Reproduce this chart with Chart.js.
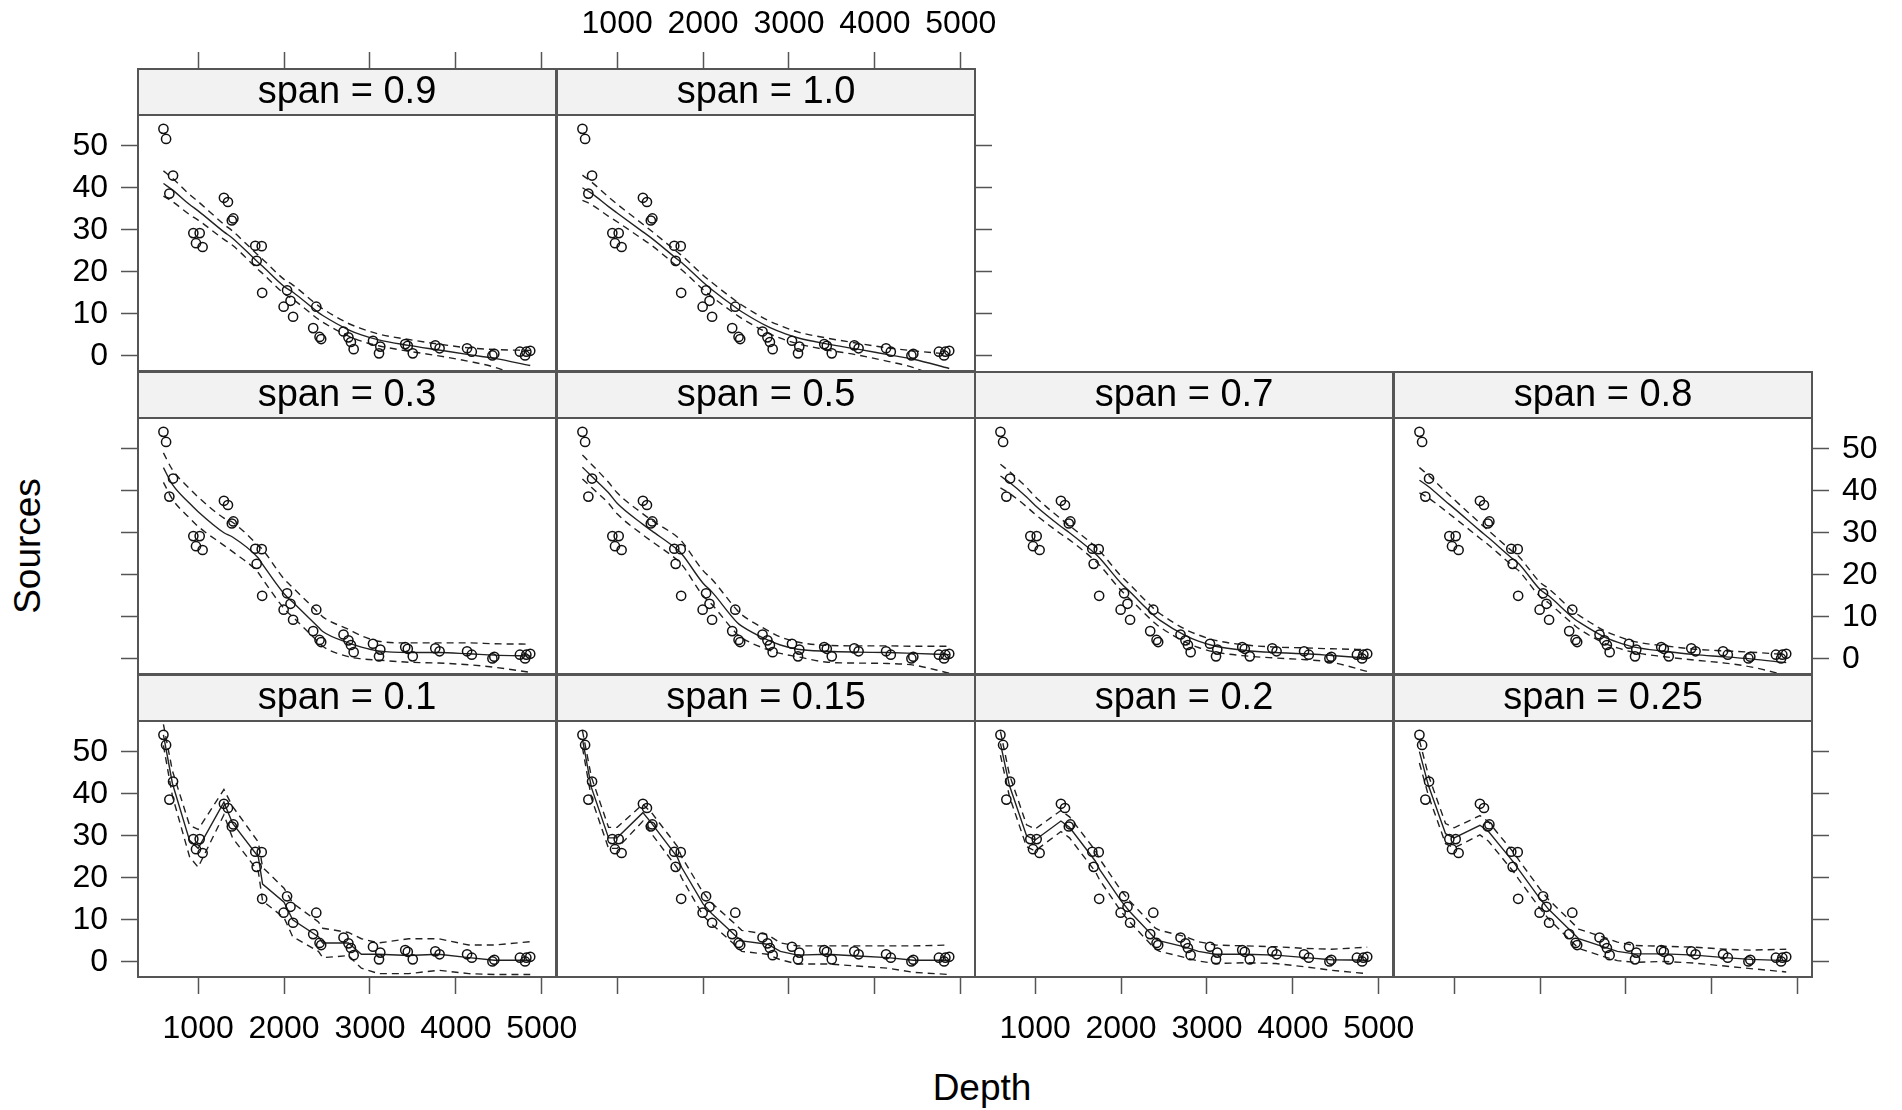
<!DOCTYPE html>
<html><head><meta charset="utf-8">
<script src="https://cdn.jsdelivr.net/npm/chart.js@4.4.1/dist/chart.umd.min.js"></script>
<style>
html,body{margin:0;padding:0;background:#fff;width:1902px;height:1110px;overflow:hidden;font-family:"Liberation Sans",Arial,sans-serif;}
canvas{position:absolute;}
.lab{position:absolute;font-size:37px;color:#000;white-space:nowrap;line-height:1;}
</style></head><body>
<div class="lab" id="xlab" style="left:982px;top:1087px;transform:translate(-50%,-50%);">Depth</div>
<div class="lab" id="ylab" style="left:27px;top:546px;transform:translate(-50%,-50%) rotate(-90deg);">Sources</div>
<script>
// ---------- data ----------
const DEPTH   = [596, 627, 665, 708, 944, 975, 1018, 1052, 1300, 1347, 1392, 1410, 1665, 1740, 1681, 1745, 1995, 2035, 2075, 2105, 2339, 2375, 2413, 2432, 2692, 2749, 2778, 2810, 3035, 3105, 3120, 3410, 3440, 3498, 3760, 3810, 4130, 4185, 4447, 4425, 4745, 4820, 4865, 4805];
const SOURCES = [54.0, 51.6, 38.6, 42.9, 29.2, 26.8, 29.2, 25.9, 37.6, 36.6, 32.2, 32.7, 26.2, 26.1, 22.6, 15.0, 11.7, 15.6, 13.1, 9.3, 6.6, 11.7, 4.5, 4.0, 5.8, 4.4, 3.3, 1.6, 3.6, 0.6, 2.2, 2.8, 2.4, 0.6, 2.5, 1.8, 1.8, 1.0, 0.5, 0.1, 1.0, 1.0, 1.2, 0.1];

const X_TICKS = [1000, 2000, 3000, 4000, 5000];
const Y_TICKS = [0, 10, 20, 30, 40, 50];
const X_MIN = 300, X_MAX = 5165;
const Y_MIN = -3.6, Y_MAX = 57.3;

const CURVE_X = [596, 700, 900, 1000, 1300, 1400, 1700, 1750, 2000, 2100, 2400, 2450, 2750, 2900, 3100, 3450, 3800, 4150, 4450, 4865];

const FIT_010 = [54.0, 42.5, 28.9, 27.0, 38.0, 33.0, 25.0, 18.5, 14.2, 10.0, 6.0, 4.5, 4.5, 1.8, 1.8, 1.5, 1.8, 1.0, 0.4, 0.4];
const UP_010  = [56.5, 45.5, 32.5, 31.5, 41.0, 37.0, 28.5, 22.5, 17.5, 14.0, 9.5, 8.0, 7.0, 5.5, 4.5, 5.5, 5.5, 4.0, 4.0, 4.8];
const LO_010  = [51.5, 39.5, 25.0, 22.5, 35.0, 29.5, 21.5, 14.5, 10.5, 6.0, 2.5, 1.0, 1.5, -1.5, -2.8, -2.8, -2.0, -2.8, -3.0, -3.0];

const FIT_015 = [53.0, 41.5, 29.5, 29.5, 35.5, 33.0, 24.9, 22.5, 13.8, 11.5, 5.8, 5.0, 4.2, 2.5, 1.6, 1.8, 1.4, 1.0, 0.4, 0.4];
const UP_015  = [55.0, 44.0, 32.0, 32.0, 37.5, 35.5, 27.5, 25.0, 16.5, 14.0, 8.5, 7.5, 6.5, 4.5, 3.8, 3.8, 3.8, 3.8, 3.8, 4.0];
const LO_015  = [51.0, 39.0, 27.0, 27.0, 33.5, 30.5, 22.3, 20.0, 11.0, 9.0, 3.5, 2.5, 1.8, 0.5, -0.5, -0.5, -1.0, -1.5, -2.5, -3.0];

const FIT_020 = [52.0, 42.0, 30.0, 29.0, 33.5, 32.0, 24.0, 22.0, 14.5, 12.0, 5.5, 5.0, 3.5, 2.5, 1.8, 1.8, 1.6, 1.0, 0.5, 0.4];
const UP_020  = [54.8, 44.6, 32.6, 31.6, 36.0, 34.5, 26.5, 24.5, 17.0, 14.5, 8.0, 7.5, 6.0, 4.8, 4.0, 3.8, 3.6, 3.2, 3.0, 3.5];
const LO_020  = [49.2, 39.4, 27.4, 26.4, 31.0, 29.5, 21.5, 19.5, 12.0, 9.5, 3.0, 2.5, 1.0, 0.2, -0.4, -0.2, -0.4, -1.2, -2.0, -2.8];

const FIT_025 = [50.0, 42.0, 30.5, 29.5, 32.5, 31.0, 23.5, 22.0, 15.0, 12.5, 6.5, 5.5, 3.5, 2.5, 1.9, 1.9, 1.6, 1.0, 0.6, 0.3];
const UP_025  = [52.7, 44.4, 32.9, 31.9, 34.8, 33.3, 25.8, 24.3, 17.3, 14.8, 8.8, 7.8, 5.8, 4.7, 3.9, 3.7, 3.5, 3.0, 2.8, 3.0];
const LO_025  = [47.3, 39.6, 28.1, 27.1, 30.2, 28.7, 21.2, 19.7, 12.7, 10.2, 4.2, 3.2, 1.2, 0.3, -0.1, 0.1, -0.3, -1.0, -1.6, -2.4];

const FIT_030 = [45.5, 41.5, 37.0, 35.0, 30.0, 29.0, 24.0, 22.5, 15.5, 13.5, 7.5, 6.5, 3.8, 2.8, 1.9, 1.5, 1.5, 1.2, 0.9, 0.7];
const UP_030  = [49.0, 45.0, 40.5, 38.5, 33.5, 32.5, 27.0, 26.0, 19.0, 17.0, 11.0, 10.0, 7.0, 5.5, 4.2, 3.8, 3.8, 3.8, 3.6, 3.5];
const LO_030  = [42.0, 38.0, 33.5, 31.5, 27.0, 25.5, 20.5, 19.0, 12.0, 10.0, 4.0, 3.0, 0.5, 0.0, -0.3, -0.8, -1.0, -1.4, -2.0, -3.2];

const FIT_050 = [45.6, 43.5, 39.5, 37.0, 32.0, 30.5, 26.0, 25.0, 18.0, 16.0, 8.6, 7.8, 4.5, 3.3, 2.3, 1.8, 1.6, 1.5, 1.3, 1.0];
const UP_050  = [48.5, 46.3, 42.0, 39.5, 34.5, 33.0, 29.0, 28.0, 21.0, 19.0, 11.5, 10.5, 6.8, 5.2, 4.0, 3.2, 3.1, 3.1, 3.0, 3.0];
const LO_050  = [42.8, 40.8, 37.0, 34.5, 29.5, 28.0, 23.5, 22.5, 15.0, 13.0, 5.8, 5.0, 2.2, 1.3, 0.5, -0.8, -1.0, -1.1, -1.5, -3.4];

const FIT_070 = [43.5, 42.0, 38.5, 36.5, 31.5, 30.0, 25.0, 24.0, 18.0, 16.0, 10.0, 9.2, 5.5, 4.2, 3.0, 2.0, 1.5, 1.2, 0.8, 0.2];
const UP_070  = [46.3, 44.6, 40.8, 38.6, 33.3, 31.7, 26.7, 25.7, 19.7, 17.7, 11.6, 10.8, 7.0, 5.7, 4.4, 3.3, 2.8, 2.6, 2.4, 2.2];
const LO_070  = [40.7, 39.4, 36.2, 34.4, 29.7, 28.3, 23.3, 22.3, 16.3, 14.3, 8.4, 7.6, 4.0, 2.7, 1.6, 0.7, 0.2, -0.2, -0.8, -3.0];

const FIT_080 = [42.5, 41.0, 37.5, 35.8, 30.5, 28.8, 23.5, 22.7, 16.5, 15.0, 9.5, 8.8, 5.2, 4.0, 2.8, 1.8, 1.0, 0.5, 0.0, -0.9];
const UP_080  = [45.5, 43.7, 39.8, 37.9, 32.3, 30.5, 25.2, 24.4, 18.2, 16.7, 11.1, 10.4, 6.7, 5.4, 4.1, 3.1, 2.3, 1.9, 1.6, 1.0];
const LO_080  = [39.5, 38.3, 35.2, 33.6, 28.7, 27.1, 21.8, 21.0, 14.8, 13.3, 8.0, 7.2, 3.7, 2.6, 1.5, 0.5, -0.3, -1.0, -1.9, -3.9];

const FIT_090 = [41.0, 39.5, 36.0, 34.5, 29.5, 28.0, 22.2, 21.3, 16.5, 15.2, 10.3, 9.6, 6.2, 5.0, 3.8, 2.5, 1.4, 0.3, -0.6, -2.3];
const UP_090  = [44.0, 42.3, 38.4, 36.7, 31.3, 29.7, 23.9, 23.0, 18.2, 16.9, 11.9, 11.2, 7.7, 6.5, 5.2, 3.9, 2.8, 1.9, 1.5, 1.3];
const LO_090  = [38.0, 36.7, 33.6, 32.3, 27.7, 26.3, 20.5, 19.6, 14.8, 13.5, 8.7, 8.0, 4.7, 3.5, 2.4, 1.1, 0.0, -1.3, -2.7, -5.9];

const FIT_100 = [40.0, 38.7, 35.5, 34.0, 29.5, 28.0, 23.0, 22.2, 17.5, 15.8, 11.2, 10.5, 7.0, 5.7, 4.3, 2.8, 1.6, 0.3, -0.8, -3.0];
const UP_100  = [43.0, 41.4, 37.8, 36.1, 31.3, 29.7, 24.7, 23.9, 19.2, 17.5, 12.8, 12.1, 8.5, 7.2, 5.7, 4.2, 3.0, 1.9, 1.2, 0.4];
const LO_100  = [37.0, 36.0, 33.2, 31.9, 27.7, 26.3, 21.3, 20.5, 15.8, 14.1, 9.6, 8.9, 5.5, 4.2, 2.9, 1.4, 0.2, -1.3, -2.8, -6.4];

// ---------- layout ----------
const COL_LEFT = [138, 557, 975, 1394];
const ROW_TOP = [69, 372, 675];   // strip tops
const PW = 418, PH = 256, SH = 46;
const PADL = 130, PADR = 130, PADT = 80, PADB = 90;
const TL = 17;

const PANELS = [
  {label:'span = 0.9',  col:0, row:0, fit:FIT_090, up:UP_090, lo:LO_090, smooth:true,
   left:'both', right:'none', top:'ticks', bottom:'none'},
  {label:'span = 1.0',  col:1, row:0, fit:FIT_100, up:UP_100, lo:LO_100, smooth:true,
   left:'none', right:'ticks', top:'both', bottom:'none'},
  {label:'span = 0.3',  col:0, row:1, fit:FIT_030, up:UP_030, lo:LO_030, smooth:true,
   left:'ticks', right:'none', top:'none', bottom:'none'},
  {label:'span = 0.5',  col:1, row:1, fit:FIT_050, up:UP_050, lo:LO_050, smooth:true,
   left:'none', right:'none', top:'none', bottom:'none'},
  {label:'span = 0.7',  col:2, row:1, fit:FIT_070, up:UP_070, lo:LO_070, smooth:true,
   left:'none', right:'none', top:'none', bottom:'none'},
  {label:'span = 0.8',  col:3, row:1, fit:FIT_080, up:UP_080, lo:LO_080, smooth:true,
   left:'none', right:'both', top:'none', bottom:'none'},
  {label:'span = 0.1',  col:0, row:2, fit:FIT_010, up:UP_010, lo:LO_010, smooth:false,
   left:'both', right:'none', top:'none', bottom:'both'},
  {label:'span = 0.15', col:1, row:2, fit:FIT_015, up:UP_015, lo:LO_015, smooth:false,
   left:'none', right:'none', top:'none', bottom:'ticks'},
  {label:'span = 0.2',  col:2, row:2, fit:FIT_020, up:UP_020, lo:LO_020, smooth:false,
   left:'none', right:'none', top:'none', bottom:'both'},
  {label:'span = 0.25', col:3, row:2, fit:FIT_025, up:UP_025, lo:LO_025, smooth:false,
   left:'none', right:'ticks', top:'none', bottom:'ticks'}
];

const FONT_FAMILY = '"Liberation Sans", Arial, sans-serif';
const tickFont = {family: FONT_FAMILY, size: 32};
const FRAME = '#555555';

function xy(xs, ys){ return xs.map((x,i)=>({x:x, y:ys[i]})); }

const panelPlugin = {
  id: 'panelFrame',
  beforeDatasetsDraw(chart){
    const a = chart.chartArea, c = chart.ctx;
    c.save();
    c.fillStyle = '#f2f2f2';
    c.fillRect(a.left, a.top, a.right - a.left, SH);
    c.restore();
  },
  afterDraw(chart){
    const a = chart.chartArea, c = chart.ctx;
    const p = chart.options.plugins.panelFrame;
    c.save();
    c.strokeStyle = FRAME; c.lineWidth = 2;
    c.strokeRect(a.left, a.top, a.right - a.left, a.bottom - a.top);
    c.beginPath(); c.moveTo(a.left, a.top + SH); c.lineTo(a.right, a.top + SH); c.stroke();
    c.fillStyle = '#000';
    c.font = '38px ' + FONT_FAMILY;
    c.textAlign = 'center'; c.textBaseline = 'middle';
    c.fillText(p.label, (a.left + a.right)/2, a.top + SH/2 + 1);
    c.restore();
  }
};

function axisX(pos, mode){
  return {
    type:'linear', position:pos, min:X_MIN, max:X_MAX,
    afterBuildTicks: s => { s.ticks = X_TICKS.map(v => ({value:v})); },
    afterFit: s => { s.height = pos === 'top' ? PADT : PADB; },
    grid:{drawOnChartArea:false, drawTicks: mode !== 'none', tickLength:TL, tickColor:FRAME, tickWidth:1.5},
    border:{display:false},
    ticks:{display: mode === 'both', font:tickFont, color:'#000', padding: pos === 'top' ? 9 : 16,
           maxRotation:0, autoSkip:false, callback: v => String(v)}
  };
}
function axisY(pos, mode, yTop){
  return {
    type:'linear', position:pos, min:Y_MIN, max:yTop,
    afterBuildTicks: s => { s.ticks = Y_TICKS.map(v => ({value:v})); },
    afterFit: s => { s.width = pos === 'left' ? PADL : PADR; },
    grid:{drawOnChartArea:false, drawTicks: mode !== 'none', tickLength:TL, tickColor:FRAME, tickWidth:1.5},
    border:{display:false},
    ticks:{display: mode === 'both', font:tickFont, color:'#000', padding:13, autoSkip:false,
           callback: v => String(v)}
  };
}

PANELS.forEach(p => {
  const cv = document.createElement('canvas');
  cv.width = PW + PADL + PADR;
  cv.height = SH + PH + PADT + PADB;
  cv.style.left = (COL_LEFT[p.col] - PADL) + 'px';
  cv.style.top = (ROW_TOP[p.row] - PADT) + 'px';
  document.body.appendChild(cv);
  const yTop = Y_MAX + SH * (Y_MAX - Y_MIN) / PH;
  const lineBase = {type:'line', pointRadius:0, borderColor:'#222', borderWidth:1.4, fill:false,
                    xAxisID:'x', yAxisID:'y', tension: 0,
                    cubicInterpolationMode: p.smooth ? 'monotone' : 'default'};
  new Chart(cv.getContext('2d'), {
    type:'scatter',
    data:{datasets:[
      {type:'scatter', data: xy(DEPTH, SOURCES), pointStyle:'circle', pointRadius:4.6,
       pointBorderWidth:1.5, pointBorderColor:'#111', pointBackgroundColor:'rgba(0,0,0,0)',
       xAxisID:'x', yAxisID:'y'},
      Object.assign({}, lineBase, {data: xy(CURVE_X, p.fit)}),
      Object.assign({}, lineBase, {data: xy(CURVE_X, p.up), borderDash:[7,5]}),
      Object.assign({}, lineBase, {data: xy(CURVE_X, p.lo), borderDash:[7,5]})
    ]},
    options:{
      responsive:false, animation:false, devicePixelRatio:1,
      layout:{padding:0},
      plugins:{legend:{display:false}, tooltip:{enabled:false}, panelFrame:{label:p.label}},
      scales:{
        x: axisX('bottom', p.bottom),
        x2: axisX('top', p.top),
        y: axisY('left', p.left, yTop),
        y2: axisY('right', p.right, yTop)
      }
    },
    plugins:[panelPlugin]
  });
});
</script>
</body></html>
